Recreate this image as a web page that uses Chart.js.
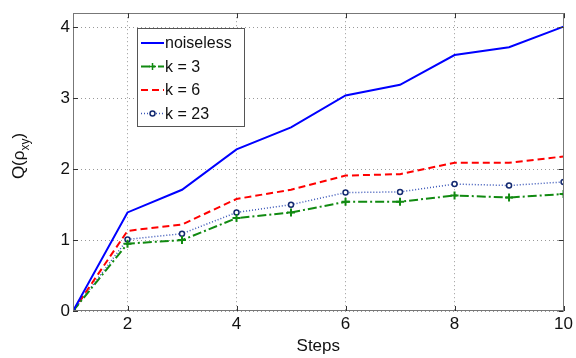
<!DOCTYPE html>
<html>
<head>
<meta charset="utf-8">
<script src="https://cdn.jsdelivr.net/npm/chart.js@4/dist/chart.umd.min.js"></script>
<style>
  html, body { margin: 0; padding: 0; background: #fff; }
  #wrap { width: 576px; height: 358px; }
</style>
</head>
<body>
<div id="wrap"><canvas id="qChart"></canvas></div>
<script>
var steps = [1, 2, 3, 4, 5, 6, 7, 8, 9, 10];
var noiseless = [0, 1.39, 1.71, 2.28, 2.59, 3.04, 3.19, 3.61, 3.72, 4.01];
var k3 = [0, 0.95, 1.00, 1.31, 1.39, 1.54, 1.54, 1.63, 1.60, 1.65];
var k6 = [0, 1.13, 1.22, 1.58, 1.71, 1.91, 1.93, 2.09, 2.09, 2.18];
var k23 = [0, 1.01, 1.09, 1.39, 1.50, 1.67, 1.68, 1.79, 1.77, 1.82];
var xTicks = [2, 4, 6, 8, 10];
var yTicks = [0, 1, 2, 3, 4];
var seriesNames = ['noiseless', 'k = 3', 'k = 6', 'k = 23'];

var FONT = 'Liberation Sans, Arial, sans-serif';

function points(vals) {
    return steps.map(function(s, i) { return { x: s, y: vals[i] }; });
}

// boxed legend in the upper-left corner of the plot
var boxLegend = {
    id: 'boxLegend',
    afterDatasetsDraw: function(chart) {
        var ctx = chart.ctx;
        var x0 = 137, y0 = 28, w = 107, h = 98;
        ctx.save();
        ctx.fillStyle = '#fff';
        ctx.fillRect(x0, y0, w, h);
        ctx.strokeStyle = '#555';
        ctx.lineWidth = 1;
        ctx.strokeRect(x0 + 0.5, y0 + 0.5, w, h);
        chart.data.datasets.forEach(function(ds, i) {
            var y = 43 + i * 23.5;
            ctx.strokeStyle = ds.borderColor;
            ctx.lineWidth = ds.borderWidth;
            ctx.setLineDash(ds.borderDash || []);
            ctx.beginPath();
            ctx.moveTo(141, y);
            ctx.lineTo(164, y);
            ctx.stroke();
            ctx.setLineDash([]);
            if (ds.pointRadius > 0) {
                ctx.lineWidth = 1.5;
                ctx.strokeStyle = ds.pointBorderColor;
                ctx.fillStyle = ds.pointBackgroundColor;
                ctx.beginPath();
                if (ds.pointStyle === 'cross') {
                    ctx.moveTo(152.5 - 3.5, y); ctx.lineTo(152.5 + 3.5, y);
                    ctx.moveTo(152.5, y - 3.5); ctx.lineTo(152.5, y + 3.5);
                    ctx.stroke();
                } else {
                    ctx.arc(152.5, y, 2.5, 0, Math.PI * 2);
                    ctx.fill();
                    ctx.stroke();
                }
            }
            ctx.fillStyle = '#111';
            ctx.font = '16px ' + FONT;
            ctx.textBaseline = 'middle';
            ctx.textAlign = 'left';
            ctx.fillText(ds.label, 165, y + 1);
        });
        ctx.restore();
    }
};

// plot frame, inward ticks and the y axis title with its subscript
var frame = {
    id: 'frame',
    afterDraw: function(chart) {
        var ctx = chart.ctx, a = chart.chartArea;
        var xs = chart.scales.x, ys = chart.scales.y;
        ctx.save();
        ctx.strokeStyle = '#777';
        ctx.lineWidth = 1;
        ctx.strokeRect(Math.round(a.left) + 0.5, Math.round(a.top) + 0.5,
            Math.round(a.right - a.left) - 1, Math.round(a.bottom - a.top) - 1);
        ctx.strokeStyle = '#333';
        ctx.beginPath();
        xTicks.forEach(function(v) {
            var px = Math.round(xs.getPixelForValue(v)) + 0.5;
            ctx.moveTo(px, a.bottom); ctx.lineTo(px, a.bottom - 5);
            ctx.moveTo(px, a.top); ctx.lineTo(px, a.top + 5);
        });
        yTicks.forEach(function(v) {
            var py = Math.round(ys.getPixelForValue(v)) + 0.5;
            ctx.moveTo(a.left, py); ctx.lineTo(a.left + 5, py);
            ctx.moveTo(a.right, py); ctx.lineTo(a.right - 5, py);
        });
        ctx.stroke();

        // Q(ρ_xy)
        var big = '17px ' + FONT, small = '12px ' + FONT;
        ctx.font = big;
        var w1 = ctx.measureText('Q(\u03c1').width;
        var w3 = ctx.measureText(')').width;
        ctx.font = small;
        var w2 = ctx.measureText('xy').width;
        var total = w1 + w2 + w3;
        ctx.translate(24, 156);
        ctx.rotate(-Math.PI / 2);
        ctx.fillStyle = '#111';
        ctx.textBaseline = 'alphabetic';
        ctx.textAlign = 'left';
        var x = -total / 2;
        ctx.font = big;
        ctx.fillText('Q(\u03c1', x, 0);
        ctx.font = small;
        ctx.fillText('xy', x + w1, 5);
        ctx.font = big;
        ctx.fillText(')', x + w1 + w2, 0);
        ctx.restore();
    }
};

var config = {
    type: 'line',
    data: {
        datasets: [{
            label: seriesNames[0],
            data: points(noiseless),
            borderColor: '#0000ff',
            borderWidth: 2,
            pointRadius: 0
        }, {
            label: seriesNames[1],
            data: points(k3),
            borderColor: '#118a11',
            borderWidth: 2,
            borderDash: [9, 3, 2, 3],
            pointStyle: 'cross',
            pointRadius: 4,
            pointBorderWidth: 2,
            pointBorderColor: '#118a11',
            pointBackgroundColor: '#118a11'
        }, {
            label: seriesNames[2],
            data: points(k6),
            borderColor: '#ff0000',
            borderWidth: 2,
            borderDash: [7, 4],
            pointRadius: 0
        }, {
            label: seriesNames[3],
            data: points(k23),
            borderColor: '#3a56b8',
            borderWidth: 1.5,
            borderDash: [1, 2],
            pointStyle: 'circle',
            pointRadius: 2.5,
            pointBorderWidth: 1.5,
            pointBorderColor: '#142a70',
            pointBackgroundColor: '#ffffff'
        }]
    },
    options: {
        responsive: false,
        animation: false,
        layout: { padding: { top: 10, right: 9, left: 0, bottom: 0 } },
        plugins: {
            legend: { display: false },
            tooltip: { enabled: false }
        },
        scales: {
            x: {
                type: 'linear',
                min: 1,
                max: 10,
                afterBuildTicks: function(scale) {
                    scale.ticks = xTicks.map(function(v) { return { value: v }; });
                },
                afterFit: function(scale) { scale.height = 47; },
                grid: { color: '#999', lineWidth: 1, drawTicks: false },
                border: { display: false, dash: [1, 3] },
                ticks: { padding: 3, color: '#111', font: { size: 17, family: FONT }, maxRotation: 0 },
                title: {
                    display: true,
                    text: 'Steps',
                    color: '#111',
                    font: { size: 17, family: FONT },
                    padding: { top: 0, bottom: 1 }
                }
            },
            y: {
                min: 0,
                max: 4.2,
                afterBuildTicks: function(scale) {
                    scale.ticks = yTicks.map(function(v) { return { value: v }; });
                },
                afterFit: function(scale) { scale.width = 73; },
                grid: { color: '#999', lineWidth: 1, drawTicks: false },
                border: { display: false, dash: [1, 3] },
                ticks: { padding: 3, color: '#111', font: { size: 17, family: FONT } }
            }
        }
    },
    plugins: [boxLegend, frame]
};

window.onload = function() {
    var canvas = document.getElementById('qChart');
    canvas.width = 576;
    canvas.height = 358;
    new Chart(canvas.getContext('2d'), config);
};
</script>
</body>
</html>
